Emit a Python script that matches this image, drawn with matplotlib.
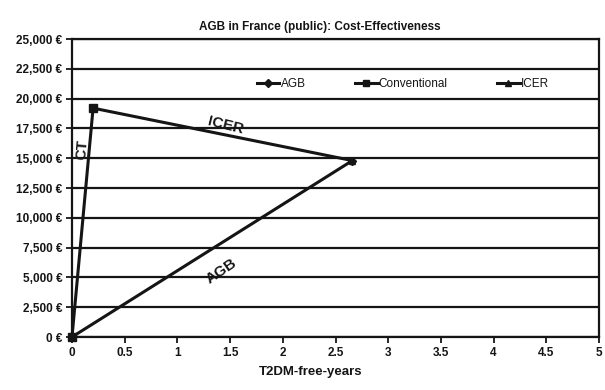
import matplotlib.pyplot as plt
from matplotlib.ticker import FuncFormatter

plt.rcParams['font.family'] = ['Liberation Sans', 'DejaVu Sans']

# cost vs. T2DM-free-years
agb_x = [0, 2.66]
agb_y = [0, 14800]
conv_x = [0, 0.2]
conv_y = [0, 19200]
icer_x = [0.2, 2.66]
icer_y = [19200, 14800]

y_ticks = list(range(0, 25001, 2500))
x_ticks = [0, 0.5, 1, 1.5, 2, 2.5, 3, 3.5, 4, 4.5, 5]

ink = '#151515'

fig = plt.figure(figsize=(6.05, 3.9), dpi=100)
ax = fig.add_axes([72 / 605, 53 / 390, 527 / 605, 298 / 390])

for y in y_ticks:
    ax.axhline(y, color=ink, lw=1.6, zorder=1)

ax.plot(agb_x, agb_y, color=ink, lw=2.2, marker='D', ms=4, label='AGB',
        zorder=3, clip_on=False)
ax.plot(conv_x, conv_y, color=ink, lw=2.2, marker='s', ms=5.5, label='Conventional',
        zorder=3, clip_on=False)
ax.plot(icer_x, icer_y, color=ink, lw=2.2, marker='^', ms=5, label='ICER',
        zorder=3, clip_on=False)

ax.set_xlim(0, 5)
ax.set_ylim(0, 25000)
ax.set_xticks(x_ticks)
ax.set_xticklabels([f'{v:g}' for v in x_ticks])
ax.set_yticks(y_ticks)
ax.yaxis.set_major_formatter(FuncFormatter(lambda v, p: f'{int(v):,} €'))
ax.tick_params(labelsize=8.5, width=1.3, length=4, color=ink, pad=3)
for lab in ax.get_xticklabels() + ax.get_yticklabels():
    lab.set_fontweight('bold')
    lab.set_color(ink)
for s in ax.spines.values():
    s.set_linewidth(1.6)
    s.set_color(ink)

fig.text(320 / 605, 1 - 27 / 390, 'AGB in France (public): Cost-Effectiveness',
         fontsize=8.5, fontweight='bold', ha='center', va='center', color=ink)
fig.text(311 / 605, 1 - 372 / 390, 'T2DM-free-years', fontsize=9.5,
         fontweight='bold', ha='center', va='center', color=ink)

leg = ax.legend(loc='center', bbox_to_anchor=(0.628, 0.849), ncol=3, frameon=False,
                fontsize=8.5, handlelength=1.9, handletextpad=0.1, columnspacing=4.2,
                markerscale=0.9)
for t in leg.get_texts():
    t.set_color(ink)

# labels along the lines
ax.text(0.095, 15700, 'CT', rotation=85, fontsize=11, fontweight='bold',
        ha='center', va='center', color=ink)
ax.text(1.46, 17750, 'ICER', rotation=-14, fontsize=11, fontweight='bold',
        ha='center', va='center', color=ink)
ax.text(1.42, 5500, 'AGB', rotation=34, fontsize=11, fontweight='bold',
        ha='center', va='center', color=ink)

fig.savefig('out.png', dpi=100)
